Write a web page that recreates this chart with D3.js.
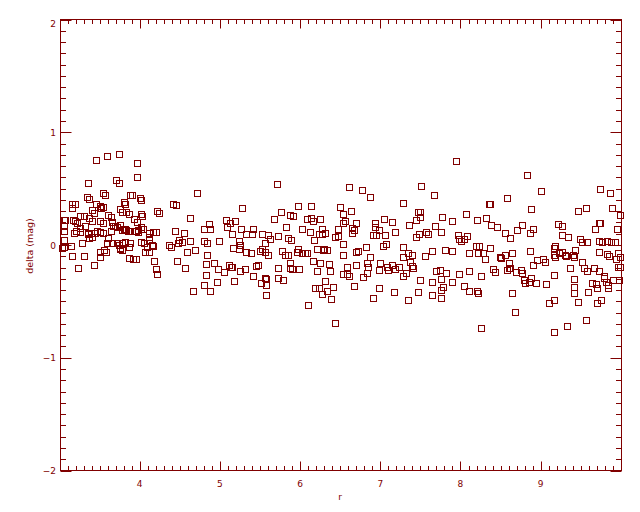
<!DOCTYPE html>
<html><head><meta charset="utf-8">
<script src="https://cdn.jsdelivr.net/npm/d3@7"></script>
<style>html,body{margin:0;padding:0;background:#fff;}svg{display:block;}</style>
</head><body><svg id="c" width="640" height="512"></svg>
<script>
// r values (x) and delta (mag) values (y)
const rValues = [
3.45,3.59,3.74,3.97,3.97,3.35,3.70,3.74,3.54,3.34,3.88,3.90,4.00,3.80,4.72,3.15,3.19,3.16,3.50,3.46,
3.76,3.78,3.83,3.40,3.60,4.01,4.42,4.45,4.21,4.63,3.25,3.30,3.07,3.17,3.37,3.41,3.51,3.65,3.69,3.75,
3.93,4.01,3.81,3.85,3.06,3.05,3.05,3.05,3.05,3.19,3.22,3.25,3.32,3.35,3.47,3.50,3.64,3.82,3.95,4.01,
4.16,4.11,4.44,4.55,4.63,4.49,4.53,4.36,4.47,4.56,4.69,4.59,4.48,3.21,3.18,3.26,3.36,3.39,3.41,3.37,
3.54,3.67,3.72,3.78,3.83,3.86,3.98,4.12,4.11,4.20,4.24,4.03,4.01,3.82,3.57,3.37,3.43,3.52,3.54,3.64,
3.87,3.96,4.04,3.98,3.60,3.54,3.44,3.65,3.59,3.72,3.74,3.78,3.76,3.82,3.88,3.86,4.01,4.05,4.09,4.11,
4.15,4.17,3.75,3.78,3.56,3.58,3.50,3.51,3.31,3.15,3.14,3.28,3.03,3.43,3.23,3.87,3.91,3.95,4.18,4.20,
4.22,4.07,4.11,4.39,4.67,
5.71,6.61,6.77,6.87,5.28,5.97,6.14,6.50,6.63,5.76,5.87,5.91,6.54,5.08,5.13,5.19,5.09,4.87,4.88,4.80,
5.67,6.08,6.14,6.16,6.25,6.54,6.56,6.70,6.93,6.93,7.05,7.14,5.82,6.02,6.27,6.47,6.65,6.67,6.65,6.98,
7.18,5.26,5.41,5.15,5.33,5.40,5.53,5.60,5.63,5.73,5.85,5.89,6.12,6.24,6.27,6.31,6.43,6.47,6.17,6.91,
6.95,7.06,4.80,4.84,4.99,5.24,5.25,5.56,5.16,5.24,5.33,5.39,5.50,5.52,5.56,5.60,5.78,5.81,5.85,5.96,
5.97,6.02,6.06,6.09,6.21,6.28,6.30,6.33,6.54,6.54,6.70,6.72,6.82,6.87,7.03,7.07,4.84,4.83,4.92,4.98,
5.05,5.11,5.14,5.15,5.25,5.31,5.45,5.48,5.41,5.73,5.87,5.87,5.90,5.98,6.16,6.25,6.36,6.21,6.37,6.58,
6.59,6.61,6.53,6.70,6.83,6.85,6.83,6.79,6.98,7.00,7.08,7.10,7.14,7.18,7.23,4.83,4.96,4.88,4.80,5.17,
5.56,5.58,5.72,5.79,5.51,5.58,5.58,6.19,6.23,6.27,6.34,6.31,6.41,6.39,6.67,6.99,6.91,7.17,6.10,6.43,
7.95,8.83,7.51,7.67,9.00,7.28,8.58,8.36,8.37,9.74,9.87,7.47,7.50,7.49,8.07,8.88,9.47,9.56,9.89,9.99,
7.44,7.36,7.68,7.77,7.90,8.21,8.32,8.38,8.46,9.22,9.27,9.73,9.74,9.68,9.95,7.45,7.48,7.57,7.59,7.76,
7.97,7.98,8.01,8.05,8.08,8.56,8.62,8.70,8.77,8.87,8.91,9.27,9.34,9.49,9.52,9.58,9.73,9.77,9.83,9.88,
9.93,7.28,7.35,7.40,7.28,7.37,7.39,7.32,7.28,7.41,7.64,7.56,7.81,7.89,8.11,8.19,8.23,8.22,8.28,8.30,
8.37,8.49,8.51,8.56,8.64,8.60,8.62,8.87,8.90,8.96,9.03,9.06,9.16,9.18,9.23,9.16,9.18,9.27,9.30,9.32,
9.40,9.42,9.43,9.52,9.54,9.58,9.73,9.83,9.85,9.97,9.99,9.94,9.97,9.99,7.34,7.49,7.64,7.47,7.64,7.76,
7.78,7.76,7.76,7.70,7.74,7.82,7.89,7.98,8.04,8.11,8.11,8.20,8.22,8.25,8.40,8.43,8.58,8.61,8.69,8.75,
8.77,8.79,8.80,8.86,8.94,8.88,9.07,8.64,8.68,9.10,9.17,9.16,8.25,9.17,9.33,9.56,9.36,9.41,9.41,9.42,
9.47,9.59,9.64,9.69,9.70,9.70,9.75,9.79,9.82,9.84,9.84,9.79,9.90,9.98,9.67,9.73
];
const deltaValues = [
0.754,0.789,0.804,0.725,0.606,0.553,0.576,0.553,0.464,0.428,0.443,0.440,0.420,0.384,0.464,0.364,0.364,0.331,0.346,0.368,
0.319,0.295,0.290,0.310,0.266,0.272,0.364,0.352,0.302,0.239,0.257,0.257,0.222,0.224,0.237,0.213,0.213,0.204,0.171,0.177,
0.228,0.160,0.145,0.127,0.222,0.169,0.127,0.044,-0.015,0.213,0.198,0.153,0.169,0.109,0.127,0.118,0.127,0.139,0.127,0.139,
0.118,0.074,0.127,0.109,0.038,0.044,0.029,0.000,-0.139,-0.207,-0.044,-0.059,0.015,0.127,0.104,0.118,0.095,0.104,0.071,0.065,
0.195,0.171,0.162,0.133,0.133,0.124,0.133,0.104,0.044,0.118,0.281,0.257,0.400,0.364,0.441,0.405,0.286,0.328,0.337,0.246,
0.272,0.207,0.139,0.118,0.065,0.104,0.104,0.015,0.015,0.015,0.000,0.015,-0.029,0.029,0.020,-0.015,0.029,0.015,-0.015,-0.059,
0.000,-0.009,-0.038,-0.044,-0.044,-0.059,-0.059,-0.104,-0.098,-0.098,-0.009,0.020,-0.029,-0.177,-0.207,-0.115,-0.124,-0.124,-0.139,-0.216,
-0.260,-0.059,-0.059,-0.020,-0.408,
0.541,0.514,0.488,0.426,0.328,0.346,0.346,0.337,0.302,0.293,0.266,0.257,0.275,0.222,0.198,0.213,0.162,0.184,0.142,0.139,
0.228,0.228,0.239,0.213,0.228,0.198,0.216,0.198,0.198,0.162,0.228,0.201,0.162,0.142,0.145,0.139,0.153,0.133,0.104,0.130,
0.115,0.139,0.139,0.100,0.098,0.095,0.095,0.089,0.053,0.080,0.059,0.044,0.115,0.100,0.100,0.106,0.068,0.082,0.044,0.091,
0.091,0.089,0.038,0.020,0.035,0.035,0.000,0.015,-0.024,-0.038,-0.059,-0.068,-0.053,-0.038,-0.059,-0.086,-0.053,-0.086,-0.086,-0.059,
-0.035,-0.074,-0.074,-0.068,-0.033,-0.044,-0.038,-0.044,0.009,-0.089,-0.059,-0.051,-0.020,-0.104,-0.009,0.009,-0.089,-0.169,-0.162,-0.216,
-0.242,-0.177,-0.198,-0.192,-0.231,-0.216,-0.184,-0.177,-0.272,-0.204,-0.162,-0.207,-0.216,-0.216,-0.139,-0.162,-0.169,-0.231,-0.231,-0.198,
-0.257,-0.275,-0.260,-0.177,-0.162,-0.198,-0.251,-0.281,-0.222,-0.162,-0.198,-0.222,-0.177,-0.216,-0.192,-0.266,-0.326,-0.405,-0.355,-0.319,
-0.295,-0.304,-0.295,-0.310,-0.340,-0.355,-0.443,-0.384,-0.384,-0.437,-0.411,-0.317,-0.370,-0.482,-0.364,-0.384,-0.473,-0.414,-0.535,-0.694,
0.748,0.621,0.526,0.443,0.479,0.370,0.420,0.361,0.366,0.497,0.464,0.290,0.295,0.251,0.275,0.319,0.304,0.326,0.326,0.266,
0.222,0.177,0.169,0.251,0.213,0.222,0.237,0.177,0.157,0.186,0.169,0.192,0.197,0.139,0.139,0.074,0.095,0.113,0.095,0.113,
0.089,0.051,0.038,0.051,0.082,0.104,0.059,0.130,0.177,0.109,0.139,0.089,0.074,0.051,0.029,0.029,0.038,0.027,0.035,0.027,
0.024,-0.015,-0.068,-0.089,-0.104,-0.148,-0.186,-0.251,-0.275,-0.207,-0.051,-0.095,-0.044,-0.053,-0.074,-0.009,-0.009,-0.074,-0.074,-0.127,
-0.029,-0.104,-0.118,-0.089,-0.074,-0.157,-0.201,-0.053,-0.177,-0.133,-0.127,-0.148,-0.029,-0.009,-0.074,-0.089,-0.109,-0.065,-0.089,-0.098,
-0.089,-0.109,-0.044,-0.148,-0.207,-0.231,-0.059,-0.080,-0.095,-0.074,-0.104,-0.127,-0.192,-0.198,-0.488,-0.310,-0.326,-0.414,-0.443,-0.304,
-0.370,-0.399,-0.473,-0.228,-0.222,-0.246,-0.326,-0.255,-0.364,-0.231,-0.405,-0.405,-0.428,-0.275,-0.216,-0.242,-0.222,-0.201,-0.237,-0.222,
-0.251,-0.310,-0.340,-0.331,-0.334,-0.295,-0.343,-0.428,-0.597,-0.517,-0.488,-0.266,-0.733,-0.769,-0.716,-0.665,-0.207,-0.299,-0.370,-0.428,
-0.503,-0.414,-0.334,-0.346,-0.384,-0.512,-0.488,-0.293,-0.328,-0.355,-0.381,-0.275,-0.310,-0.310,-0.201,-0.228
];
const xMajorTicks = [4, 5, 6, 7, 8, 9];
const yMajorTicks = [-2, -1, 0, 1, 2];
const xDomain = [3.012, 10.008];
const yDomain = [-2, 2];
const xTitle = "r";
const yTitle = "delta (mag)";

const col = "#800000";
const svg = d3.select("#c");
const L = 60.5, R = 621.5, T = 19.5, B = 470.5;
const x = d3.scaleLinear().domain(xDomain).range([L, R]);
const y = d3.scaleLinear().domain(yDomain).range([B, T]);

const n = Math.min(rValues.length, deltaValues.length);
const pts = d3.range(n).map(i => [rValues[i], deltaValues[i]]);

// points
svg.append("g").selectAll("rect").data(pts).join("rect")
  .attr("x", d => Math.round(x(d[0]) - 3) + 0.5)
  .attr("y", d => Math.round(y(d[1]) - 3) + 0.5)
  .attr("width", 6).attr("height", 6)
  .attr("fill", "none").attr("stroke", col).attr("stroke-width", 1);

// frame
svg.append("rect").attr("x", L).attr("y", T).attr("width", R - L).attr("height", B - T)
  .attr("fill", "none").attr("stroke", col).attr("stroke-width", 1);

const xMinor = d3.range(31, 101).map(v => v / 10).filter(v => v >= xDomain[0] && v <= xDomain[1]);
const yMinor = d3.range(-20, 21).map(v => v / 10);
const isMajor = v => Math.abs(v - Math.round(v)) < 1e-6;
const g = svg.append("g").attr("stroke", col).attr("stroke-width", 1);
xMinor.forEach(v => {
  const px = Math.round(x(v)) + 0.5;
  const len = isMajor(v) ? 9 : 4.5;
  g.append("line").attr("x1", px).attr("x2", px).attr("y1", B).attr("y2", B - len);
  g.append("line").attr("x1", px).attr("x2", px).attr("y1", T).attr("y2", T + len);
});
yMinor.forEach(v => {
  const py = Math.round(y(v)) + 0.5;
  const len = isMajor(v) ? 11 : 5.5;
  g.append("line").attr("y1", py).attr("y2", py).attr("x1", L).attr("x2", L + len);
  g.append("line").attr("y1", py).attr("y2", py).attr("x1", R).attr("x2", R - len);
});

const font = "DejaVu Sans, sans-serif";
svg.append("g").selectAll("text").data(xMajorTicks).join("text")
  .attr("x", d => x(d)).attr("y", 486.5)
  .attr("text-anchor", "middle").attr("font-family", font).attr("font-size", 9)
  .attr("fill", col).text(d => d);
svg.append("g").selectAll("text").data(yMajorTicks).join("text")
  .attr("x", 56).attr("y", d => y(d) + (d === 2 ? 7 : 3.5))
  .attr("text-anchor", "end").attr("font-family", font).attr("font-size", 9)
  .attr("fill", col).text(d => d < 0 ? "\u2212" + Math.abs(d) : d);
svg.append("text").attr("x", 340).attr("y", 500)
  .attr("text-anchor", "middle").attr("font-family", font).attr("font-size", 9)
  .attr("fill", col).text(xTitle);
svg.append("text").attr("transform", "translate(33,246) rotate(-90)")
  .attr("text-anchor", "middle").attr("font-family", font).attr("font-size", 9.5)
  .attr("fill", col).text(yTitle);
</script></body></html>
